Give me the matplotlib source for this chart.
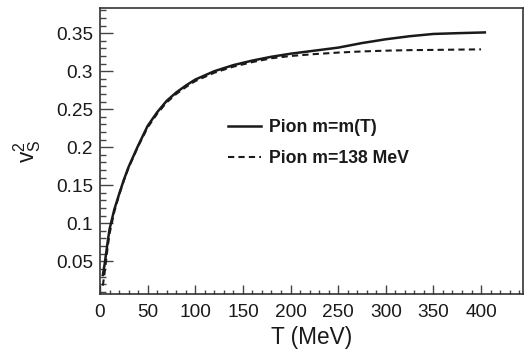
import matplotlib

matplotlib.use("Agg")
import matplotlib.pyplot as plt
from matplotlib.ticker import FuncFormatter, MultipleLocator

# Squared speed of sound of a pion gas vs temperature
T_mT = [3, 5, 8, 10, 15, 20, 25, 30, 40, 50, 60, 70, 80, 90, 100, 120,
        140, 160, 180, 200, 225, 250, 275, 300, 325, 350, 375, 404]
cs2_mT = [0.032, 0.047, 0.075, 0.092, 0.118, 0.138, 0.157, 0.174, 0.202,
          0.228, 0.246, 0.261, 0.272, 0.281, 0.289, 0.300, 0.308, 0.314,
          0.319, 0.323, 0.327, 0.331, 0.337, 0.342, 0.346, 0.349, 0.350,
          0.351]

T_138 = [3, 5, 8, 10, 15, 20, 25, 30, 40, 50, 60, 70, 80, 90, 100, 120,
         140, 160, 180, 200, 225, 250, 275, 300, 325, 350, 375, 400]
cs2_138 = [0.018, 0.036, 0.068, 0.086, 0.115, 0.137, 0.156, 0.173, 0.201,
           0.226, 0.244, 0.259, 0.270, 0.279, 0.287, 0.298, 0.306, 0.312,
           0.317, 0.320, 0.3225, 0.3245, 0.326, 0.327, 0.3277, 0.328,
           0.3284, 0.3287]

labels = ["Pion m=m(T)", "Pion m=138 MeV"]

plt.rcParams["font.family"] = ["Liberation Sans", "DejaVu Sans"]
plt.rcParams["mathtext.fontset"] = "custom"
plt.rcParams["mathtext.rm"] = "Liberation Sans"

fig = plt.figure(figsize=(5.24, 3.52), dpi=100)
ax = fig.add_axes([0.1908, 0.1648, 0.8072, 0.8122])

ink = "#1a1a1a"
ax.plot(T_mT, cs2_mT, color=ink, lw=1.8, label=labels[0])
ax.plot(T_138, cs2_138, color=ink, lw=1.5, ls=(0, (3, 2)), label=labels[1])

ax.set_xlim(0, 444)
ax.set_ylim(0.007, 0.383)
ax.xaxis.set_major_locator(MultipleLocator(50))
ax.xaxis.set_minor_locator(MultipleLocator(10))
ax.yaxis.set_major_locator(MultipleLocator(0.05))
ax.yaxis.set_minor_locator(MultipleLocator(0.01))
ax.yaxis.set_major_formatter(FuncFormatter(lambda v, _: f"{v:g}"))

ax.tick_params(which="both", direction="in", top=False, right=False,
               color="#444444", width=1.0, labelsize=13.7, labelcolor=ink)
ax.tick_params(axis="x", which="major", length=6.2, pad=7)
ax.tick_params(axis="x", which="minor", length=3.0)
ax.tick_params(axis="y", which="major", length=9.2, pad=5)
ax.tick_params(axis="y", which="minor", length=4.4)
for sp in ax.spines.values():
    sp.set_color("#333333")
    sp.set_linewidth(1.2)

ax.set_xlabel("T (MeV)", fontsize=16.3, color=ink, labelpad=4)
ax.set_ylabel(r"$\mathrm{v}_{\mathrm{S}}^{2}$", fontsize=16.3, color=ink)
ax.yaxis.set_label_coords(-0.135, 0.5)

ax.legend(loc="upper left", bbox_to_anchor=(0.3026, 0.612), frameon=False,
          borderpad=0, borderaxespad=0, handlelength=1.9, handletextpad=0.45,
          labelspacing=0.78, prop={"weight": "bold", "size": 12.7},
          labelcolor=ink)

fig.savefig("out.png", dpi=100)
